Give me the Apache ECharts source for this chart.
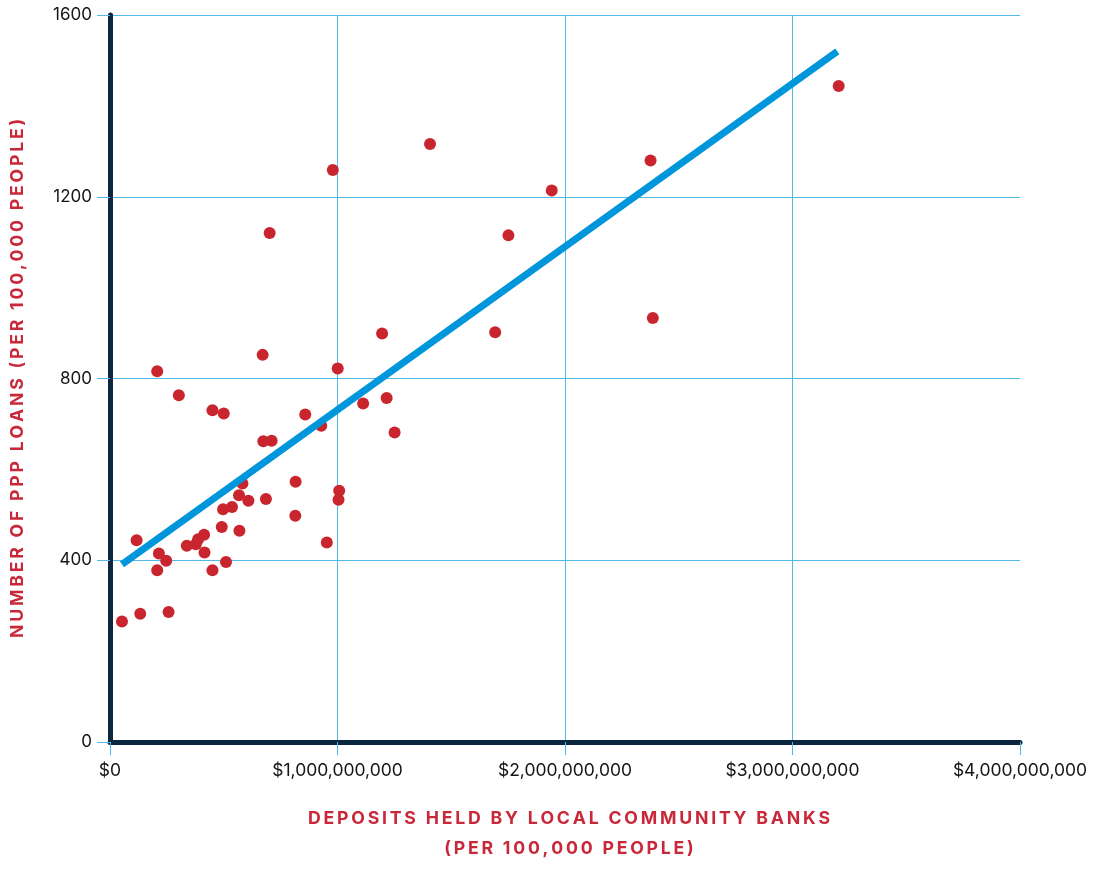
<!DOCTYPE html>
<html>
<head>
<meta charset="utf-8">
<script src="https://cdn.jsdelivr.net/npm/echarts@6/dist/echarts.min.js"></script>
<style>
html,body{margin:0;padding:0;background:#fff;overflow:hidden;}
#c{width:1094px;height:869px;}
</style>
</head>
<body>
<div id="c"></div>
<script>
// Deposits held by local community banks (per 100,000 people), in dollars
const deposits = [
  207.5e6, 671e6, 1196e6, 1001e6, 302.6e6, 450.4e6, 500e6, 858.3e6, 928.5e6, 1112.7e6,
  1216e6, 1251e6, 674e6, 710.5e6, 582e6, 815.8e6, 1007.5e6, 1004.4e6, 567e6, 608.3e6,
  685.5e6, 497e6, 536.4e6, 814.5e6, 491.2e6, 568.9e6, 953e6, 117e6, 413.6e6, 387.3e6,
  377.2e6, 337.7e6, 415.4e6, 215e6, 247e6, 207.5e6, 450.4e6, 510e6, 52.6e6, 132.9e6,
  257.5e6, 979.4e6, 1406.6e6, 701.8e6, 3203e6, 2376e6, 1941.7e6, 1751.3e6, 1693e6, 2386e6
];
// Number of PPP loans (per 100,000 people)
const loans = [
  816, 852, 899, 822, 763, 730, 723, 721, 696, 745,
  757, 681, 662, 663, 569, 573, 553, 533, 543, 531,
  535, 512, 517, 498, 473, 465, 439, 444, 456, 446,
  435, 432, 417, 415, 399, 378, 378, 396, 265, 282,
  286, 1259, 1316, 1120, 1444, 1280, 1214, 1115, 902, 933
];
// Trend line end points
const trendX = [52.6e6, 3197e6];
const trendY = [391, 1520];
// Axis ticks
const xTicks = [0, 1e9, 2e9, 3e9, 4e9];
const yTicks = [0, 400, 800, 1200, 1600];
// Axis titles
const xTitle = ['DEPOSITS HELD BY LOCAL COMMUNITY BANKS', '(PER 100,000 PEOPLE)'];
const yTitle = 'NUMBER OF PPP LOANS (PER 100,000 PEOPLE)';

const points = deposits.map((d, i) => [d, loans[i]]);
const trend = trendX.map((d, i) => [d, trendY[i]]);
const spaced = s => s.split('').join('\u2009');

const gridBlue = '#52b9e6';
const navy = '#0b2740';
const red = '#c8283a';
const font = 'Inter, "Noto Sans", sans-serif';

const chart = echarts.init(document.getElementById('c'), null, {renderer: 'canvas'});
chart.setOption({
  animation: false,
  grid: {left: 110, width: 910, top: 15, height: 736, containLabel: false},
  xAxis: {
    type: 'value',
    min: xTicks[0],
    max: xTicks[xTicks.length - 1],
    interval: xTicks[1] - xTicks[0],
    name: xTitle.map(spaced).join('\n'),
    nameLocation: 'middle',
    nameGap: 62,
    nameTextStyle: {color: red, fontFamily: font, fontWeight: 'bold', fontSize: 17.7, lineHeight: 30, padding: [0, 0, 0, 8]},
    axisLine: {show: true, lineStyle: {color: navy, width: 5}},
    axisTick: {show: true, length: 13, lineStyle: {color: gridBlue, width: 1}},
    axisLabel: {
      color: '#151515', fontFamily: font, fontSize: 17.5, margin: 20,
      formatter: v => '$' + v.toLocaleString('en-US')
    },
    splitLine: {show: true, showMaxLine: false, lineStyle: {color: gridBlue, width: 1}}
  },
  yAxis: {
    type: 'value',
    min: yTicks[0],
    max: yTicks[yTicks.length - 1],
    interval: yTicks[1] - yTicks[0],
    name: spaced(yTitle),
    nameLocation: 'middle',
    nameGap: 83,
    nameTextStyle: {color: red, fontFamily: font, fontWeight: 'bold', fontSize: 17.7},
    axisLine: {show: true, lineStyle: {color: navy, width: 5}},
    axisTick: {show: true, length: 13, lineStyle: {color: gridBlue, width: 1}},
    axisLabel: {color: '#151515', fontFamily: font, fontSize: 17, margin: 18, formatter: v => String(v)},
    splitLine: {show: true, lineStyle: {color: gridBlue, width: 1}}
  },
  series: [
    {
      type: 'scatter',
      data: points,
      symbolSize: 12,
      itemStyle: {color: '#c9252f', opacity: 1},
      z: 2
    },
    {
      type: 'line',
      data: trend,
      symbol: 'none',
      lineStyle: {color: '#0096db', width: 7, cap: 'butt'},
      z: 3
    }
  ]
});
</script>
</body>
</html>
